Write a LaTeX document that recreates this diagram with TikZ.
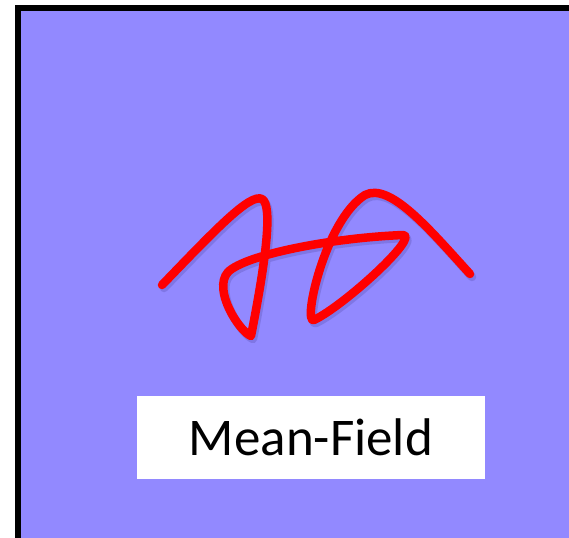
\documentclass[tikz,border=0pt]{standalone}
\usepackage{fontspec}
\setmainfont{Carlito}
\definecolor{bgpurple}{RGB}{146,137,255}
\definecolor{shadowpurple}{RGB}{110,100,205}
\tikzset{
  curve/.style={line width=8.5pt, line cap=round, line join=round},
  labelbox/.style={fill=white, draw=none, minimum width=348pt, minimum height=83pt, inner sep=0pt, font=\fontsize{53}{64}\selectfont}
}
\begin{document}
\begin{tikzpicture}[x=1pt,y=-1pt]
\useasboundingbox (0,0) rectangle (569,537);
\begin{scope}
\clip (0,0) rectangle (569,537);
\fill[bgpurple] (18,8) rectangle (600,600);
\draw[line width=6pt] (18,600) -- (18,8) -- (600,8);
\def\squiggle{(162,285) .. controls (215,230) and (250,193) .. (262,199) .. controls (273,205) and (266,260) .. (251,336) .. controls (240,332) and (212,290) .. (228,272) .. controls (245,255) and (330,238) .. (403,235) .. controls (420,236) and (345,305) .. (314,320) .. controls (302,325) and (325,220) .. (365,195) .. controls (390,182) and (430,230) .. (470,274)}
\draw[curve, shadowpurple, opacity=0.5, shift={(2,3)}] \squiggle;
\draw[curve, red] \squiggle;
\end{scope}
\node[labelbox] (label) at (311,437.5) {Mean-Field};
\end{tikzpicture}
\end{document}
